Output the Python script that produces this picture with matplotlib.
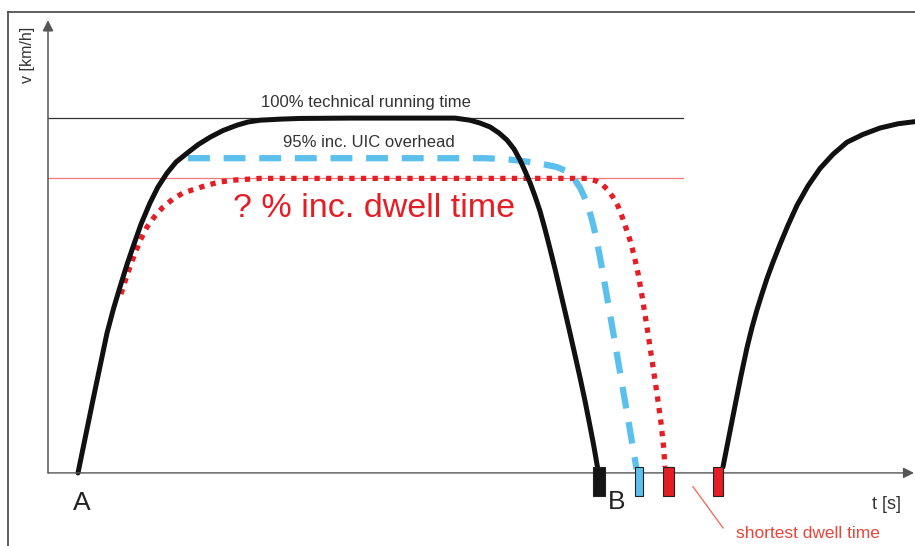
import matplotlib
matplotlib.use("Agg")
import matplotlib.pyplot as plt

plt.rcParams['font.family'] = ['Liberation Sans', 'DejaVu Sans']

# technical running time A -> B (black), time t [s], speed v [km/h]
t_run = [30, 37.5, 45, 52, 59, 65.5, 72, 78.5, 85, 93, 102, 110, 119, 128, 139, 150, 162, 175,
         189, 200, 212, 232, 252, 302, 392, 407, 422, 432, 442, 451, 459, 466, 472, 477, 482,
         487, 492, 497, 502, 507, 512, 517, 522, 527, 532, 537, 542, 546, 549, 550]
v_run = [0, 10.3, 20.6, 30.0, 39.4, 46.3, 52.4, 58.3, 63.7, 70.1, 76.1, 80.6, 84.5, 87.6, 90.1,
         92.5, 94.6, 96.5, 98.0, 98.9, 99.4, 99.7, 99.9, 100, 100, 100, 99.4, 98.6, 97.5, 95.8,
         93.8, 91.3, 88.2, 85.1, 81.8, 78.0, 73.8, 68.7, 63.2, 57.5, 51.5, 45.5, 39.4, 33.2,
         26.9, 20.3, 13.2, 7.3, 2.4, 0.8]

# 95% incl. UIC overhead (blue dashed)
t_uic = [140, 252, 352, 435, 455, 472, 482, 497, 509, 517, 522, 527, 532, 536, 540, 544, 548,
         552, 556, 560, 565, 570, 576, 582, 587, 588.5]
v_uic = [88.7, 88.7, 88.7, 88.7, 88.5, 88.0, 87.6, 86.9, 86.2, 85.2, 84.2, 82.5, 80.4, 78.0,
         75.1, 71.3, 66.5, 60.8, 54.5, 48.0, 39.9, 31.7, 21.8, 12.0, 3.7, 1.1]

# ? % incl. dwell time (red dotted)
t_dwell = [73, 76, 80, 85, 92, 99, 107, 115, 125, 135, 147, 159, 172, 185, 212, 539, 548, 555,
           560, 565, 570, 574, 578, 582, 586, 590, 594, 599, 604, 609, 613, 615.5, 617]
v_dwell = [50.4, 53.1, 56.5, 60.4, 65.4, 69.3, 72.4, 74.9, 77.2, 78.9, 80.0, 81.1, 82.0, 82.5,
           83, 83, 82.3, 81.1, 79.7, 77.7, 75.2, 72.3, 69.0, 65.6, 61.4, 56.3, 49.9, 41.1,
           31.8, 22.3, 14.1, 7.6, 1.7]

# next departure from B (black)
t_next = [675, 681, 687, 693, 699, 704, 709, 714, 719, 725, 732, 740, 749, 760, 772, 785, 799,
          815, 832, 850, 867, 887]
v_next = [1.7, 10.3, 18.9, 27.4, 35.3, 41.0, 46.0, 50.5, 54.8, 59.4, 64.4, 69.8, 75.4, 80.9,
          85.8, 89.8, 93.2, 95.4, 97.2, 98.4, 99.0, 99.3]

# stop markers at B
stop_t = [551, 591, 620.5, 670]
stop_w = [12, 8, 11, 10]
stop_colors = ['#151515', '#5cc0ec', '#e31e25', '#e31e25']

v_max = 100
v_dwell_level = 83
t_ref_end = 635

fig = plt.figure(figsize=(9.15, 5.46), dpi=100)
ax = fig.add_axes([8 / 915, 0, 907 / 915, 534 / 546])
ax.set_xlim(-40, 867)
ax.set_ylim(-20.6, 129.9)
ax.set_xticks([])
ax.set_yticks([])
for side in ['right', 'bottom']:
    ax.spines[side].set_visible(False)
for side in ['left', 'top']:
    ax.spines[side].set_color('#444444')
    ax.spines[side].set_linewidth(1.2)

# axes with arrows
ax.annotate('', xy=(0, 127.6), xytext=(0, 0),
            arrowprops=dict(arrowstyle='-|>', color='#555555', lw=1.1, mutation_scale=16,
                            shrinkA=0, shrinkB=0))
ax.annotate('', xy=(866, 0), xytext=(0, 0),
            arrowprops=dict(arrowstyle='-|>', color='#555555', lw=1.0, mutation_scale=16,
                            shrinkA=0, shrinkB=0))

# reference levels
ax.plot([0, t_ref_end], [v_max, v_max], color='#333333', lw=0.9)
ax.plot([0, t_ref_end], [v_dwell_level, v_dwell_level], color='#f07a7a', lw=0.9)

ax.plot(t_dwell, v_dwell, color='#e31e25', lw=3.8, dashes=(1.0, 1.2), dash_capstyle='butt')
ax.plot(t_uic, v_uic, color='#5cc0ec', lw=4.5, dashes=(3.5, 2.2), dash_capstyle='butt')
ax.plot(t_run, v_run, color='#111111', lw=3.6, solid_capstyle='round', solid_joinstyle='round')
ax.plot(t_next, v_next, color='#111111', lw=3.6, solid_capstyle='round',
        solid_joinstyle='round')

ax.bar(stop_t, 8.2, bottom=-6.5, width=stop_w, color=stop_colors,
       edgecolor='#222222', linewidth=0.8, zorder=5)

ax.plot([645, 675], [-3.9, -15.5], color='#ee6f5f', lw=1.0)

ax.text(318, 104.5, '100% technical running time', ha='center', va='center',
        fontsize=12, color='#333333')
ax.text(321, 93.2, '95% inc. UIC overhead', ha='center', va='center',
        fontsize=12, color='#333333')
ax.text(326.5, 74.6, '? % inc. dwell time', ha='center', va='center',
        fontsize=24.5, color='#e31e25')
ax.text(-21, 117.7, 'v [km/h]', ha='center', va='center', rotation=90,
        fontsize=11.5, color='#333333')
ax.text(34, -8.5, 'A', ha='center', va='center', fontsize=19, color='#222222')
ax.text(569, -8.2, 'B', ha='center', va='center', fontsize=19, color='#222222')
ax.text(838, -9, 't [s]', ha='center', va='center', fontsize=13, color='#333333')
ax.text(759.5, -17.2, 'shortest dwell time', ha='center', va='center',
        fontsize=12.5, color='#e8453a')

fig.savefig('out.png', dpi=100, facecolor='white')
